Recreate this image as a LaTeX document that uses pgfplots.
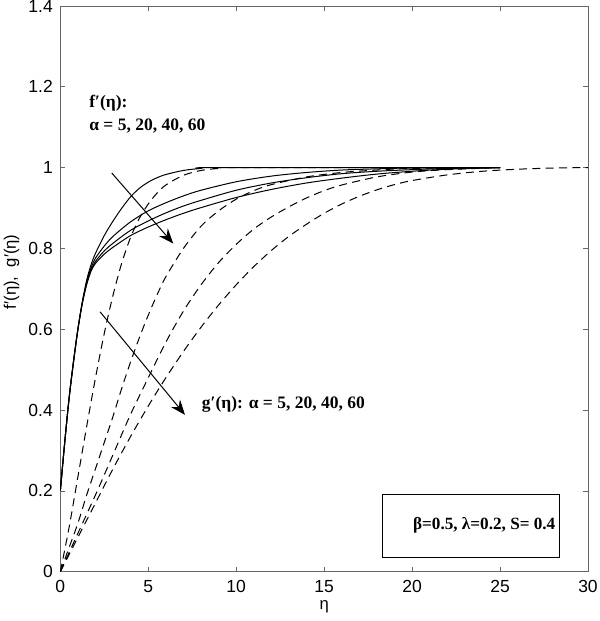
\documentclass[border=0pt]{standalone}
\usepackage{fontspec}
\setmainfont{Liberation Sans}
\newfontfamily\tnr{Liberation Serif}
\usepackage{pgfplots}
\pgfplotsset{compat=1.18}
\usetikzlibrary{arrows.meta}

% f'(eta), solid
\pgfplotstableread{
x y
0 0.2
0.25 0.32
0.5 0.43
0.75 0.52
1 0.6
1.25 0.668
1.5 0.722
1.75 0.76
2 0.788
2.5 0.832
3 0.868
3.5 0.9
4 0.928
4.5 0.949
5 0.964
5.5 0.975
6 0.983
7 0.993
8 0.998
9 1
25 1
}\fA
\pgfplotstableread{
x y
0 0.2
0.25 0.32
0.5 0.43
0.75 0.52
1 0.6
1.25 0.666
1.5 0.716
1.75 0.752
2 0.776
2.5 0.806
3 0.83
4 0.866
5 0.893
6 0.913
7 0.93
8 0.944
10 0.965
12 0.979
14 0.988
16 0.994
18 0.997
20 0.999
25 1
}\fB
\pgfplotstableread{
x y
0 0.2
0.25 0.32
0.5 0.43
0.75 0.52
1 0.6
1.25 0.665
1.5 0.713
1.75 0.747
2 0.768
2.5 0.794
3 0.813
4 0.845
5 0.868
6 0.888
7 0.905
8 0.919
10 0.944
12 0.962
14 0.975
16 0.985
18 0.991
20 0.995
22 0.998
25 1
}\fC
\pgfplotstableread{
x y
0 0.2
0.25 0.32
0.5 0.43
0.75 0.52
1 0.6
1.25 0.664
1.5 0.711
1.75 0.744
2 0.763
2.5 0.786
3 0.803
4 0.832
5 0.853
6 0.871
7 0.887
8 0.901
10 0.926
12 0.946
14 0.962
16 0.974
18 0.984
20 0.991
22 0.996
25 1
}\fD

% g'(eta), dashed
\pgfplotstableread{
x y
0 0
0.5 0.11
1 0.235
1.5 0.36
2 0.48
2.5 0.59
3 0.685
3.5 0.765
4 0.828
4.5 0.875
5 0.91
5.5 0.937
6 0.957
7 0.981
8 0.993
9 0.998
10 1
25 1
}\gA
\pgfplotstableread{
x y
0 0
0.5 0.06
1 0.12
1.5 0.19
2 0.255
2.5 0.32
3 0.385
3.5 0.455
4 0.52
4.5 0.58
5 0.635
5.5 0.685
6 0.73
7 0.8
8 0.855
9 0.893
10 0.922
11 0.943
12 0.958
14 0.977
16 0.988
18 0.994
20 0.998
25 1
}\gB
\pgfplotstableread{
x y
0 0
1 0.095
2 0.19
3 0.29
4 0.39
5 0.48
6 0.568
7 0.645
8 0.71
9 0.765
10 0.81
11 0.848
12 0.878
13 0.903
14 0.925
15 0.943
16 0.957
18 0.977
20 0.989
22 0.995
25 1
}\gC
\pgfplotstableread{
x y
0 0
1 0.085
2 0.17
3 0.255
4 0.335
5 0.41
6 0.48
7 0.545
8 0.605
9 0.66
10 0.71
11 0.755
12 0.795
13 0.83
14 0.86
15 0.887
16 0.91
17 0.929
18 0.945
19 0.958
20 0.968
22 0.982
24 0.991
26 0.996
28 0.999
30 1
}\gD

\begin{document}
\begin{tikzpicture}
\begin{axis}[
  scale only axis,
  width=316.6pt, height=339.4pt,
  xmin=0, xmax=30, ymin=0, ymax=1.4,
  xtick={0,5,...,30},
  ytick={0,0.2,...,1.4},
  tick align=inside,
  tick pos=both,
  xticklabel pos=lower,
  yticklabel pos=left,
  major tick length=3pt,
  axis line style={black!60},
  every tick/.style={black!60},
  /pgf/number format/fixed,
  /pgf/number format/assume math mode=true,
  ticklabel style={font=\fontsize{10.5}{12}\selectfont},
  xticklabel style={yshift=-1.5pt},
  yticklabel style={xshift=-1pt},
  xlabel={η},
  ylabel={f′(η),\ \ g′(η)},
  label style={font=\fontsize{10}{12}\selectfont},
  xlabel style={at={(rel axis cs:0.5,0)}, anchor=north, yshift=-13.5pt},
  ylabel style={at={(rel axis cs:0,0.53)}, anchor=south, yshift=21pt},
  every axis plot/.append style={black, line width=0.6pt},
  gdash/.style={dash pattern=on 4.8pt off 3.2pt},
]
\addplot[smooth] table {\fA};
\addplot[smooth] table {\fB};
\addplot[smooth] table {\fC};
\addplot[smooth] table {\fD};
\addplot[smooth, gdash] table {\gA};
\addplot[smooth, gdash] table {\gB};
\addplot[smooth, gdash] table {\gC};
\addplot[smooth, gdash] table {\gD};

\draw[line width=0.6pt, -{Stealth[length=9pt, width=7pt, inset=3pt]}]
  (axis cs:2.92,0.987) -- (axis cs:6.42,0.812);
\draw[line width=0.6pt, -{Stealth[length=9pt, width=7pt, inset=3pt]}]
  (axis cs:2.26,0.643) -- (axis cs:7.09,0.388);

\node[anchor=west, align=left, inner sep=0pt, font=\tnr\bfseries\fontsize{10.5}{13.8}\selectfont]
  at (axis cs:1.63,1.133) {f′(η):\\α = 5, 20, 40, 60};
\node[anchor=west, inner sep=0pt, font=\tnr\bfseries\fontsize{10.5}{12.6}\selectfont]
  at (axis cs:8.03,0.413) {g′(η): α = 5, 20, 40, 60};

\draw[black, line width=0.5pt] (axis cs:18.34,0.0357) rectangle (axis cs:28.35,0.19);
\node[inner sep=0pt, font=\tnr\bfseries\fontsize{10.3}{12.4}\selectfont]
  at (axis cs:24.1,0.1157) {β=0.5, λ=0.2, S= 0.4};
\end{axis}
\pgfresetboundingbox
\path ([xshift=-36.2pt,yshift=-29.6pt]current axis.south west) rectangle
      ([xshift=7.2pt,yshift=3.6pt]current axis.north east);
\end{tikzpicture}
\end{document}
